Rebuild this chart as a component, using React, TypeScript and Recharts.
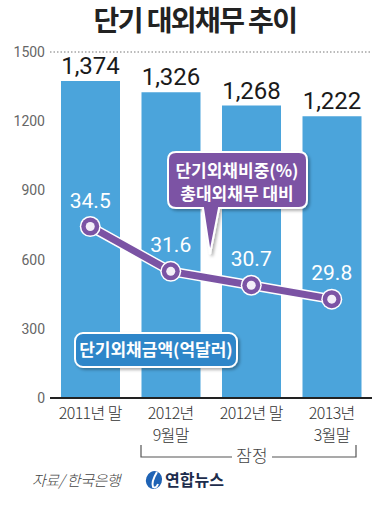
import { Bar, CartesianGrid, ComposedChart, LabelList, Line, XAxis, YAxis } from 'recharts';

const categories = ['2011년 말', '2012년 9월말', '2012년 말', '2013년 3월말'];
const categoryLines = [['2011년 말'], ['2012년', '9월말'], ['2012년 말'], ['2013년', '3월말']];
const amounts = [1374, 1326, 1268, 1222];
const ratios = [34.5, 31.6, 30.7, 29.8];
const amountTicks = [0, 300, 600, 900, 1200, 1500];

const data = categories.map((category, i) => ({
  category,
  lines: categoryLines[i],
  amount: amounts[i],
  ratio: ratios[i],
}));

const NARROW = '"Liberation Sans Narrow", "Arial Narrow", Roboto, sans-serif';
const KR = '"Noto Sans CJK KR", "Noto Sans", sans-serif';
const BAR_BLUE = '#4ba4db';
const PURPLE = '#7b53a4';

const XTick = (props: any) => {
  const { x, y, index } = props;
  const lines = categoryLines[index] ?? [];
  return (
    <g>
      {lines.map((t, i) => (
        <text
          key={t}
          x={x}
          y={y + 21 + i * 22}
          textAnchor="middle"
          fill="#333"
          fontSize={16}
          fontWeight={300}
          fontFamily={KR}
          style={{ letterSpacing: -0.6 }}
        >
          {t}
        </text>
      ))}
    </g>
  );
};

const RatioDot = (props: any) => {
  const { cx, cy } = props;
  return (
    <g>
      <circle cx={cx} cy={cy} r={10.5} fill="#fff" />
      <circle cx={cx} cy={cy} r={9} fill={PURPLE} />
      <circle cx={cx} cy={cy} r={4.5} fill="#f3eef8" />
    </g>
  );
};

const Overlay = () => (
  <svg
    width={390}
    height={506}
    style={{ position: 'absolute', left: 0, top: 0, pointerEvents: 'none' }}
  >
    <defs>
      <filter id="sh" x="-10%" y="-10%" width="130%" height="140%">
        <feDropShadow dx="2" dy="2" stdDeviation="1.5" floodColor="#000" floodOpacity="0.3" />
      </filter>
    </defs>
    {/* title */}
    <text
      x={195}
      y={31}
      textAnchor="middle"
      fill="#222"
      fontSize={28}
      fontWeight={700}
      fontFamily={KR}
      style={{ letterSpacing: -1.6 }}
    >
      단기 대외채무 추이
    </text>
    {/* ratio callout */}
    <g filter="url(#sh)">
      <path
        d="M176 152 H299 Q307 152 307 160 V200 Q307 208 299 208 H219 L210 254 L203 208 H176 Q168 208 168 200 V160 Q168 152 176 152 Z"
        fill={PURPLE}
        stroke="#fff"
        strokeWidth={2}
      />
    </g>
    <text x={237} y={177} textAnchor="middle" fill="#fff" fontSize={17} fontWeight={700} fontFamily={KR}>
      단기외채비중(%)
    </text>
    <text x={237} y={200} textAnchor="middle" fill="#fff" fontSize={17} fontWeight={700} fontFamily={KR}>
      총대외채무 대비
    </text>
    {/* amount callout */}
    <g filter="url(#sh)">
      <rect x={75} y={333} width={162} height={34} rx={8} fill="#2e86c9" stroke="#fff" strokeWidth={2} />
    </g>
    <text x={156} y={356} textAnchor="middle" fill="#fff" fontSize={17} fontWeight={700} fontFamily={KR}>
      단기외채금액(억달러)
    </text>
    {/* provisional bracket */}
    <path d="M141 445 V457 H232 M272 457 H356 V445" fill="none" stroke="#555" strokeWidth={1.2} />
    <text x={252} y={462} textAnchor="middle" fill="#444" fontSize={17} fontWeight={300} fontFamily={KR}>
      잠정
    </text>
    {/* source */}
    <text x={32} y={486} fill="#444" fontSize={15} fontStyle="italic" fontWeight={300} fontFamily={KR} style={{ letterSpacing: -0.5 }}>
      자료/ 한국은행
    </text>
    <ellipse cx={154} cy={480} rx={8} ry={9} transform="rotate(20 154 480)" fill="#1f63b5" />
    <path d="M157 472 Q151 482 153 487 Q156 489 158 484" fill="none" stroke="#fff" strokeWidth={2} />
    <text x={165} y={486} fill="#1c2c4c" fontSize={16} fontWeight={700} fontFamily={KR}>
      연합뉴스
    </text>
  </svg>
);

export default function App() {
  return (
    <div style={{ position: 'absolute', left: 0, top: 0, width: 390, height: 506, background: '#fff', overflow: 'hidden' }}>
      <div style={{ position: 'absolute', left: 0, top: 0 }}>
        <ComposedChart
          width={390}
          height={506}
          data={data}
          margin={{ top: 52, right: 18, left: 0, bottom: 58 }}
          barCategoryGap="27%"
        >
          <CartesianGrid vertical={false} stroke="#777" strokeDasharray="1.5 2" />
          <XAxis
            dataKey="category"
            axisLine={{ stroke: '#222', strokeWidth: 2 }}
            tickLine={false}
            tickSize={0}
            tickMargin={0}
            height={50}
            interval={0}
            tick={<XTick />}
          />
          <YAxis
            yAxisId="left"
            domain={[0, 1500]}
            ticks={amountTicks}
            width={50}
            axisLine={false}
            tickLine={false}
            tickSize={5}
            tickMargin={0}
            tick={{ fill: '#666', fontSize: 14, fontFamily: NARROW }}
          />
          <YAxis yAxisId="right" orientation="right" domain={[23.4, 45.8]} hide />
          <Bar yAxisId="left" dataKey="amount" fill={BAR_BLUE} barSize={59} isAnimationActive={false}>
            <LabelList
              dataKey="amount"
              position="top"
              offset={7}
              formatter={(v: any) => Number(v).toLocaleString('en-US')}
              style={{ fill: '#1a1a1a', fontSize: 24, fontFamily: NARROW }}
            />
          </Bar>
          <Line
            yAxisId="right"
            dataKey="ratio"
            stroke="#fff"
            strokeWidth={10}
            dot={false}
            activeDot={false}
            isAnimationActive={false}
          />
          <Line
            yAxisId="right"
            dataKey="ratio"
            stroke={PURPLE}
            strokeWidth={7}
            dot={<RatioDot />}
            activeDot={false}
            isAnimationActive={false}
          >
            <LabelList
              dataKey="ratio"
              position="top"
              offset={19}
              formatter={(v: any) => Number(v).toFixed(1)}
              style={{ fill: '#fff', fontSize: 21, fontFamily: NARROW }}
            />
          </Line>
        </ComposedChart>
      </div>
      <Overlay />
    </div>
  );
}
